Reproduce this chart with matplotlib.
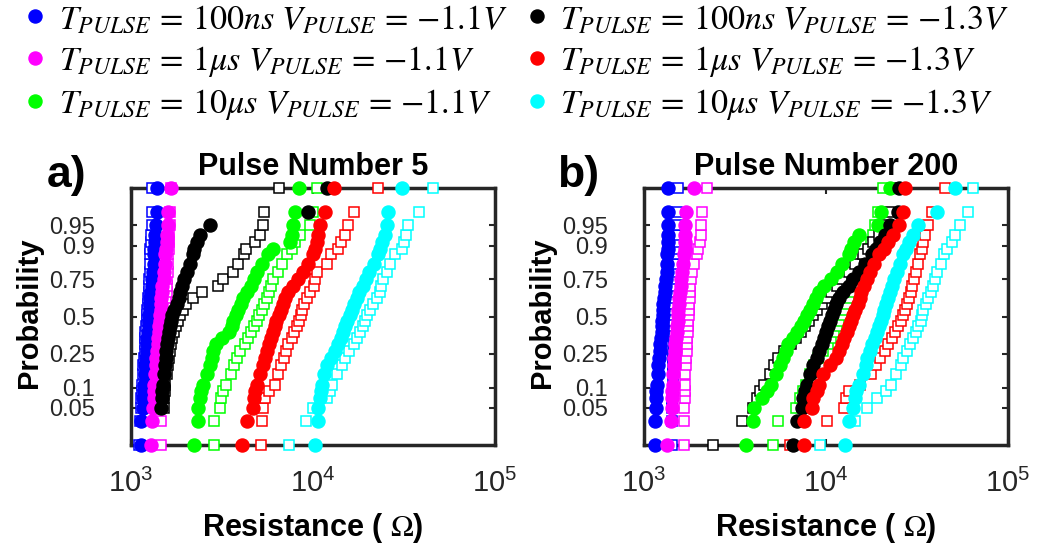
import numpy as np
import matplotlib
matplotlib.use("Agg")
import matplotlib.pyplot as plt
from matplotlib.font_manager import FontProperties
from matplotlib.ticker import NullLocator
from statistics import NormalDist

plt.rcParams['font.family'] = ['Liberation Sans', 'DejaVu Sans']

nan = np.nan

# probability of each plotted point (normal probability scale)
prob = [0.01, 0.03, 0.05, 0.07, 0.09, 0.11, 0.15, 0.19, 0.23, 0.27, 0.31,
        0.35, 0.39, 0.43, 0.47, 0.51, 0.55, 0.59, 0.63, 0.67, 0.71, 0.75,
        0.79, 0.83, 0.87, 0.89, 0.91, 0.93, 0.95, 0.97, 0.99]
prob_ticks = [0.05, 0.1, 0.25, 0.5, 0.75, 0.9, 0.95]
prob_labels = ['0.05', '0.1', '0.25', '0.5', '0.75', '0.9', '0.95']

# resistance in kOhm, pulse number 5  (dot = filled circle, sq = open square)
blue_dot_5 = [1.13, 1.14, 1.16, 1.17, 1.18, 1.18, 1.19, 1.20, 1.21, 1.22, 1.23, 1.23, 1.24, 1.25, 1.25, 1.26,
              1.27, 1.28, 1.28, 1.29, 1.30, 1.30, 1.32, 1.33, 1.34, 1.34, 1.35, 1.36, 1.37, 1.39, 1.39]
blue_sq_5 = [1.11, 1.12, 1.13, 1.14, 1.15, 1.15, 1.16, 1.17, 1.18, 1.19, 1.19, 1.20, 1.20, 1.21, 1.22, 1.22,
             1.23, 1.24, 1.24, 1.25, 1.26, 1.26, 1.27, 1.27, 1.28, 1.28, 1.29, 1.29, 1.30, 1.30, 1.31]
magenta_dot_5 = [1.29, 1.30, 1.32, 1.33, 1.34, 1.34, 1.36, 1.37, 1.38, 1.39, 1.40, 1.41, 1.42, 1.43, 1.44, 1.44,
                 1.46, 1.46, 1.47, 1.48, 1.49, 1.51, 1.52, 1.53, 1.54, 1.56, 1.57, 1.58, 1.60, 1.60, 1.67]
magenta_sq_5 = [1.46, 1.46, 1.47, 1.48, 1.49, 1.49, 1.50, 1.51, 1.51, 1.52, 1.52, 1.53, 1.54, 1.54, 1.54, 1.55,
                1.56, 1.56, 1.56, 1.57, 1.58, 1.58, 1.59, 1.60, 1.60, 1.61, 1.62, 1.62, 1.63, 1.64, 1.65]
green_dot_5 = [2.23, 2.33, 2.35, 2.38, 2.43, 2.50, 2.63, 2.72, 2.78, 2.84, 2.92, 3.18, 3.46, 3.61, 3.65, 3.76,
               3.87, 4.01, 4.14, 4.36, 4.56, 4.74, 4.94, 5.27, 5.68, 6.00, 7.48, 7.64, 7.80, 7.96, 8.38]
green_sq_5 = [2.86, 2.87, 3.08, 3.14, 3.22, 3.33, 3.54, 3.70, 3.84, 3.99, 4.23, 4.41, 4.56, 4.74, 4.90, 5.05,
              5.22, 5.40, 5.56, 5.71, 5.88, 6.05, 6.45, 6.73, 7.23, 7.64, 7.96, 8.49, 9.63, 10.0, 10.5]
black_dot_5 = [nan, nan, 1.47, 1.48, 1.49, 1.50, 1.52, 1.54, 1.55, 1.56, 1.57, 1.59, 1.61, 1.64, 1.66, 1.68,
               1.72, 1.78, 1.83, 1.87, 1.91, 1.96, 2.04, 2.11, 2.18, 2.23, 2.30, 2.39, 2.72, 9.43, 11.9]
black_sq_5 = [nan, nan, 1.51, 1.52, 1.53, 1.54, 1.57, 1.59, 1.61, 1.64, 1.66, 1.69, 1.72, 1.77, 1.82, 1.86,
              1.94, 2.01, 2.20, 2.45, 3.02, 3.22, 3.65, 3.89, 4.18, 4.28, 4.80, 5.11, 5.33, 5.39, 6.53]
red_dot_5 = [4.06, 4.36, 4.66, 4.74, 4.82, 4.90, 5.11, 5.31, 5.45, 5.59, 5.73, 5.88, 6.03, 6.18, 6.29, 6.50,
             6.67, 6.84, 7.05, 7.32, 7.80, 8.31, 8.81, 9.43, 10.0, 10.3, 10.5, 10.7, 10.9, 11.7, 13.0]
red_sq_5 = [5.18, 5.22, 5.33, 5.45, 5.76, 6.16, 6.45, 6.67, 6.90, 7.11, 7.32, 7.64, 7.83, 8.13, 8.38, 8.59,
            8.70, 8.97, 9.23, 9.67, 10.1, 10.3, 10.5, 11.9, 12.6, 13.7, 14.3, 15.0, 15.6, 16.7, 22.9]
cyan_dot_5 = [10.3, 10.6, 10.7, 10.9, 11.0, 11.2, 11.5, 12.0, 12.5, 13.2, 13.7, 14.2, 14.6, 15.0, 15.4, 15.9,
              16.4, 16.8, 17.4, 18.0, 18.8, 19.5, 20.4, 21.6, 22.7, 23.2, 23.8, 24.9, 25.4, 25.9, 30.7]
cyan_sq_5 = [7.41, 9.15, 10.0, 11.9, 12.4, 12.8, 13.6, 14.4, 15.0, 15.8, 16.8, 17.5, 18.1, 18.8, 19.3, 19.9,
             20.6, 21.5, 22.4, 23.2, 23.5, 24.3, 25.4, 26.5, 28.2, 30.7, 31.6, 32.4, 33.4, 38.4, 45.8]

# resistance in kOhm, pulse number 200
blue_dot_200 = [1.15, 1.15, 1.16, 1.16, 1.17, 1.18, 1.19, 1.20, 1.21, 1.22, 1.23, 1.24, 1.25, 1.26, 1.26, 1.27,
                1.28, 1.28, 1.29, 1.30, 1.31, 1.32, 1.33, 1.33, 1.34, 1.35, 1.35, 1.35, 1.36, 1.36, 1.36]
blue_sq_200 = [1.42, 1.43, 1.43, 1.43, 1.44, 1.44, 1.44, 1.44, 1.45, 1.45, 1.46, 1.46, 1.46, 1.46, 1.47, 1.47,
               1.47, 1.47, 1.48, 1.48, 1.49, 1.49, 1.49, 1.49, 1.50, 1.50, 1.51, 1.51, 1.51, 1.51, 1.53]
magenta_dot_200 = [1.33, 1.41, 1.42, 1.43, 1.43, 1.44, 1.45, 1.46, 1.47, 1.48, 1.49, 1.50, 1.51, 1.52, 1.53, 1.54,
                   1.54, 1.56, 1.56, 1.58, 1.59, 1.60, 1.62, 1.63, 1.65, 1.67, 1.68, 1.69, 1.69, 1.70, 1.88]
magenta_sq_200 = [1.65, 1.65, 1.65, 1.67, 1.67, 1.68, 1.69, 1.70, 1.71, 1.72, 1.72, 1.73, 1.74, 1.74, 1.75, 1.76,
                  1.77, 1.77, 1.78, 1.79, 1.80, 1.82, 1.84, 1.88, 1.95, 1.99, 2.03, 2.05, 2.07, 2.08, 2.21]
green_dot_200 = [3.63, 3.99, 4.02, 4.43, 4.72, 4.97, 5.31, 5.59, 5.78, 6.03, 6.21, 6.56, 6.90, 7.26, 7.57, 7.90,
                 8.17, 8.45, 8.81, 9.19, 9.75, 10.6, 11.5, 12.2, 13.3, 13.7, 14.3, 15.1, 19.4, 20.0, 22.5]
green_sq_200 = [5.14, 5.47, 6.84, 7.20, 7.51, 7.76, 8.17, 8.59, 9.08, 9.67, 10.2, 10.6, 11.1, 11.5, 11.8, 12.2,
                12.6, 13.0, 13.4, 13.8, 14.3, 14.9, 15.5, 16.2, 16.9, 17.3, 17.6, 18.2, 18.6, 19.2, 20.7]
black_dot_200 = [6.62, 6.90, 7.35, 7.51, 7.67, 7.83, 8.17, 8.52, 8.89, 9.19, 9.47, 9.75, 10.0, 10.3, 10.5, 10.8,
                 11.1, 11.4, 11.8, 12.4, 13.3, 14.1, 15.1, 16.4, 17.8, 18.8, 19.8, 21.1, 22.5, 25.0, 25.3]
black_sq_200 = [2.40, 3.44, 3.99, 4.16, 4.34, 4.56, 4.92, 5.18, 5.47, 5.88, 6.40, 6.84, 7.29, 7.67, 8.10, 8.52,
                8.97, 9.47, 10.1, 10.7, 11.5, 12.2, 13.3, 14.4, 16.0, 17.1, 18.2, 19.6, 21.1, 22.3, 24.5]
red_dot_200 = [7.57, 7.57, 8.34, 8.52, 8.89, 9.19, 9.67, 10.5, 11.4, 11.8, 12.2, 12.6, 13.0, 13.4, 13.7, 14.1,
               14.5, 14.9, 15.3, 15.6, 16.2, 16.7, 17.5, 18.4, 19.6, 20.8, 22.0, 23.4, 25.3, 26.6, 27.2]
red_sq_200 = [6.34, 10.1, 12.5, 12.9, 13.4, 15.4, 17.6, 18.8, 19.8, 21.1, 22.0, 23.0, 24.0, 25.0, 25.7, 26.6,
              27.2, 27.8, 28.5, 29.2, 29.8, 30.5, 31.1, 31.9, 32.8, 33.5, 34.3, 35.0, 36.5, 38.1, 45.1]
cyan_dot_200 = [12.7, 13.3, 14.1, 14.4, 14.7, 15.1, 15.9, 16.5, 16.9, 17.5, 18.0, 18.5, 19.0, 19.5, 20.0, 20.5,
                20.9, 21.5, 22.0, 22.5, 23.1, 23.6, 24.5, 25.5, 26.6, 27.5, 28.7, 30.2, 32.2, 40.6, 51.1]
cyan_sq_200 = [9.27, 14.4, 16.7, 19.0, 21.4, 22.7, 24.2, 25.7, 26.6, 27.8, 28.9, 29.9, 31.1, 32.2, 33.1, 33.7,
               34.3, 35.3, 36.5, 37.8, 38.9, 39.7, 40.9, 42.7, 44.5, 46.4, 49.0, 51.1, 54.5, 60.5, 64.5]

colors = ['#0000ff', '#ff00ff', '#00ff00', '#000000', '#ff0000', '#00ffff']
labels = [r'$T_{PULSE}\,=\,100ns\ V_{PULSE}\,=\,{-}1.1V$',
          r'$T_{PULSE}\,=\,1\mu s\ V_{PULSE}\,=\,{-}1.1V$',
          r'$T_{PULSE}\,=\,10\mu s\ V_{PULSE}\,=\,{-}1.1V$',
          r'$T_{PULSE}\,=\,100ns\ V_{PULSE}\,=\,{-}1.3V$',
          r'$T_{PULSE}\,=\,1\mu s\ V_{PULSE}\,=\,{-}1.3V$',
          r'$T_{PULSE}\,=\,10\mu s\ V_{PULSE}\,=\,{-}1.3V$']

dots_5 = [blue_dot_5, magenta_dot_5, green_dot_5, black_dot_5, red_dot_5, cyan_dot_5]
sqs_5 = [blue_sq_5, magenta_sq_5, green_sq_5, black_sq_5, red_sq_5, cyan_sq_5]
dots_200 = [blue_dot_200, magenta_dot_200, green_dot_200, black_dot_200, red_dot_200, cyan_dot_200]
sqs_200 = [blue_sq_200, magenta_sq_200, green_sq_200, black_sq_200, red_sq_200, cyan_sq_200]

nd = NormalDist()
z = [nd.inv_cdf(p) for p in prob]
axc = '#262626'

fig = plt.figure(figsize=(10.41, 5.46), dpi=100)
ax_a = fig.add_axes([0.1258, 0.1841, 0.3497, 0.4722])
ax_b = fig.add_axes([0.6186, 0.1841, 0.3497, 0.4722])


def panel(ax, dots, sqs, title):
    for r, c in zip(sqs, colors):
        ax.plot(np.array(r) * 1e3, z, 's', mfc='white', mec=c, mew=1.1, ms=6.5,
                clip_on=False, zorder=3)
    hs = []
    for r, c in zip(dots, colors):
        h, = ax.plot(np.array(r) * 1e3, z, 'o', color=c, ms=9.4, clip_on=False, zorder=4)
        hs.append(h)
    ax.set_xscale('log')
    ax.set_xlim(1e3, 1e5)
    ax.set_ylim(nd.inv_cdf(0.01), nd.inv_cdf(0.99))
    ax.set_xticks([1e3, 1e4, 1e5])
    ax.xaxis.set_minor_locator(NullLocator())
    ax.set_yticks([nd.inv_cdf(p) for p in prob_ticks], prob_labels)
    ax.tick_params(direction='in', top=True, right=True, length=4, width=1.5,
                   color=axc, labelcolor=axc)
    ax.tick_params(axis='y', labelsize=17, pad=26)
    ax.tick_params(axis='x', labelsize=21, pad=17)
    for s in ax.spines.values():
        s.set_linewidth(2.5)
        s.set_color(axc)
    ax.set_title(title, fontsize=22, fontweight='bold', pad=9)
    ax.set_ylabel('Probability', fontsize=21, fontweight='bold')
    ax.yaxis.set_label_coords(-0.242, 0.516)
    ax.set_xlabel(r'Resistance ( $\Omega$)', fontsize=22, fontweight='bold', math_fontfamily='stix')
    ax.xaxis.set_label_coords(0.5, -0.255)
    return hs


handles = panel(ax_a, dots_5, sqs_5, 'Pulse Number 5')
panel(ax_b, dots_200, sqs_200, 'Pulse Number 200')

fig.text(67 / 1041, 1 - 176 / 546, 'a)', fontsize=32, fontweight='bold', ha='center', va='center')
fig.text(578 / 1041, 1 - 176 / 546, 'b)', fontsize=32, fontweight='bold', ha='center', va='center')

fig.legend(handles, labels, ncol=2, loc='upper left', bbox_to_anchor=(0.0208, 0.9945),
           frameon=False, prop=FontProperties(family='DejaVu Serif', size=24.5, math_fontfamily='stix'),
           handlelength=0.8, handletextpad=0.3, columnspacing=0.45, labelspacing=0.25,
           borderpad=0.0, borderaxespad=0.0, markerscale=1.0)

fig.savefig('out.png', dpi=100)
